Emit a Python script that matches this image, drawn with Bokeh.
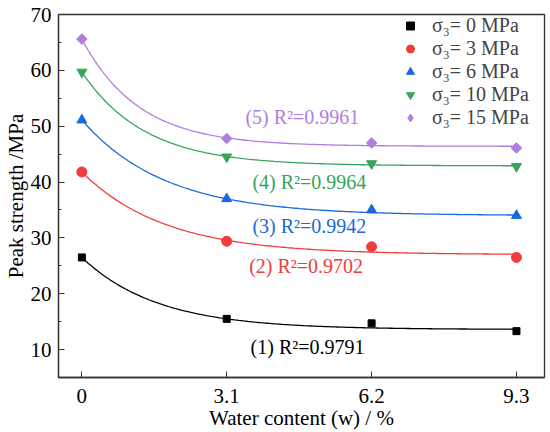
import numpy as np
from bokeh.plotting import figure
from bokeh.models import FixedTicker, Legend, LegendItem, Label, Range1d
from bokeh.embed import file_html
from bokeh.resources import INLINE

# ---- data ----
water = [0, 3.1, 6.2, 9.3]
tick_labels = ["0", "3.1", "6.2", "9.3"]
s0 = [26.5, 15.5, 14.7, 13.3]
s3 = [41.8, 29.4, 28.4, 26.5]
s6 = [51.1, 37.0, 35.0, 34.0]
s10 = [59.7, 44.5, 43.3, 42.8]
s15 = [65.6, 47.8, 47.0, 46.1]
series_labels = ["σ₃= 0 MPa", "σ₃= 3 MPa", "σ₃= 6 MPa", "σ₃= 10 MPa", "σ₃= 15 MPa"]
r2_labels = ["(1) R²=0.9791", "(2) R²=0.9702", "(3) R²=0.9942", "(4) R²=0.9964", "(5) R²=0.9961"]
# exponential-decay fit parameters (y = a + b*exp(-x/t)), estimated from the drawn curves
fit_a = [13.6, 27.0, 34.0, 42.9, 46.4]
fit_b = [12.9, 14.8, 17.1, 16.8, 19.2]
fit_t = [1.62, 1.78, 1.78, 1.35, 1.22]

colors = ["#000000", "#f03c3c", "#1a68e0", "#37a35c", "#b07ee0"]
markers = ["square", "circle", "triangle", "inverted_triangle", "square"]
legend_markers = ["square", "circle", "triangle", "inverted_triangle", "diamond"]
msizes = [7, 10, 10, 10, 7.5]
legend_sizes = [7, 10, 10, 10, 11]
mangles = [0, 0, 0, 0, np.pi / 4]
label_pos = [(3.61, 10.5), (3.58, 25.0), (3.65, 32.1), (3.65, 40.0), (3.50, 51.7)]

FONT = "Liberation Serif"

p = figure(width=548, height=432, output_backend="svg", toolbar_location=None,
           x_range=Range1d(-0.5, 9.9), y_range=Range1d(5, 70),
           min_border_left=58, min_border_right=4, min_border_top=14, min_border_bottom=51)
p.grid.visible = False
p.background_fill_color = "white"
p.outline_line_color = "#333333"
p.outline_line_width = 1.3

xs = np.linspace(0, 9.3, 200)
series = [s0, s3, s6, s10, s15]
items = []
for i, ys in enumerate(series):
    curve = fit_a[i] + fit_b[i] * np.exp(-xs / fit_t[i])
    p.line(xs, curve, line_color=colors[i], line_width=1.3)
    p.scatter(water, ys, marker=markers[i], size=msizes[i], angle=mangles[i],
              fill_color=colors[i], line_color=colors[i])
    # legend-only glyph (its single point is NaN, so nothing is drawn in the plot)
    lr = p.scatter([float("nan")], [float("nan")], marker=legend_markers[i], size=legend_sizes[i],
                   fill_color=colors[i], line_color=colors[i])
    items.append(LegendItem(label=series_labels[i], renderers=[lr]))
    lx, ly = label_pos[i]
    p.add_layout(Label(x=lx, y=ly, text=r2_labels[i], text_color=colors[i],
                       text_font=FONT, text_font_size="20px", text_baseline="middle"))

legend = Legend(items=items, location=(342, 248), padding=2, margin=0, spacing=0,
                label_height=23, glyph_height=23, glyph_width=20, label_standoff=12,
                label_text_font=FONT, label_text_font_size="20px",
                border_line_color=None, background_fill_alpha=0)
p.add_layout(legend, "center")

# axes
for ax in (p.xaxis[0], p.yaxis[0]):
    ax.axis_line_color = "#333333"
    ax.axis_line_width = 1.3
    ax.major_tick_line_color = "#333333"
    ax.minor_tick_line_color = "#333333"
    ax.major_tick_in = 6
    ax.major_tick_out = 0
    ax.minor_tick_in = 3
    ax.minor_tick_out = 0
    ax.major_label_text_font = FONT
    ax.major_label_text_font_size = "21px"
    ax.major_label_text_color = "black"
    ax.axis_label_text_font = FONT
    ax.axis_label_text_font_size = "21px"
    ax.axis_label_text_font_style = "normal"
    ax.axis_label_text_color = "black"

p.xaxis.ticker = FixedTicker(ticks=water, minor_ticks=[])
p.xaxis.major_label_overrides = {w: t for w, t in zip(water, tick_labels)}
p.xaxis.major_label_standoff = 11
p.xaxis.axis_label = "Water content (w) / %"
p.xaxis.axis_label_standoff = 0
p.yaxis.ticker = FixedTicker(ticks=[10, 20, 30, 40, 50, 60, 70],
                             minor_ticks=[15, 25, 35, 45, 55, 65])
p.yaxis.major_label_standoff = 7
p.yaxis.axis_label = "Peak strength /MPa"
p.yaxis.axis_label_standoff = 0

open("out.html", "w").write(file_html(p, INLINE))
